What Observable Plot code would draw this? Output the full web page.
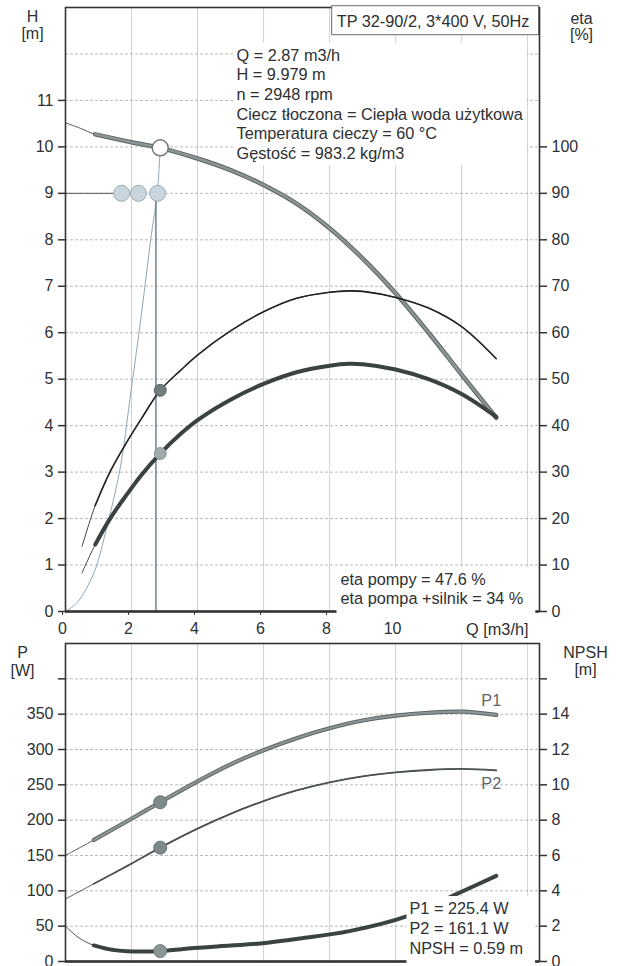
<!DOCTYPE html>
<html><head><meta charset="utf-8">
<script src="https://cdn.jsdelivr.net/npm/d3@7"></script>
<script src="https://cdn.jsdelivr.net/npm/@observablehq/plot@0.6"></script>
<style>
body{margin:0;background:#fff;}
#chart{width:618px;}
#chart svg{display:block;}
</style></head><body><div id="chart"></div>
<script>
// ---------- DATA ----------
// Q-H curve
const Q_H = [0, 0.45, 0.9, 2.0, 2.87, 4.0, 5.0, 6.0, 7.0, 8.0, 9.0, 10.0, 11.0, 12.0, 13.05];
const H_m = [10.52, 10.4, 10.27, 10.1, 9.98, 9.75, 9.5, 9.18, 8.78, 8.25, 7.6, 6.85, 6.0, 5.1, 4.17];
// efficiency curves [%]
const Q_eta = [0.5, 0.9, 1.36, 1.87, 2.3, 2.87, 3.5, 4.0, 5.0, 6.0, 7.0, 8.0, 8.6, 9.0, 10.0, 11.0, 12.0, 13.05];
const etaPump = [14.0, 22.8, 30.2, 36.6, 41.5, 47.6, 52.0, 55.2, 60.4, 64.5, 67.4, 68.7, 69.0, 68.9, 67.6, 65.3, 61.3, 54.4];
const etaTotal = [8.3, 14.4, 20.1, 25.3, 29.4, 34.0, 38.3, 41.2, 45.6, 49.0, 51.5, 52.9, 53.3, 53.2, 52.1, 50.0, 46.8, 41.9];
// thin system line from origin to duty point
const Q_sys = [0, 0.35, 0.86, 1.26, 1.67, 1.95, 2.3, 2.6, 2.78, 2.87];
const H_sys = [0, 0.19, 0.83, 1.84, 3.13, 4.56, 6.4, 8.1, 9.0, 9.98];
// power curves [W]
const Q_P = [0, 0.86, 2.0, 2.87, 4.0, 5.0, 6.0, 7.0, 8.0, 9.0, 10.0, 11.0, 12.0, 13.05];
const P1 = [150, 172, 202, 225.4, 255, 279, 299, 316, 330, 341, 348, 352, 353.5, 349];
const P2 = [88.5, 110, 138.5, 161.1, 188, 209, 227, 242, 253.5, 262, 267.5, 271, 272.5, 270.5];
// NPSH curve [m]
const Q_N = [0, 0.2, 0.45, 0.86, 1.3, 1.87, 2.3, 2.87, 3.9, 5.0, 5.9, 7.1, 8.6, 10.4, 11.76, 13.05];
const NPSH = [2.0, 1.65, 1.28, 0.91, 0.7, 0.58, 0.56, 0.59, 0.76, 0.9, 1.02, 1.3, 1.72, 2.6, 3.74, 4.85];
// duty point
const dutyQ = [2.87];
const dutyH = [9.979];
const dutyEtaPump = [47.6];
const dutyEtaTotal = [34];
const dutyP1 = [225.4];
const dutyP2 = [161.1];
const dutyNPSH = [0.59];
// legend-like circles at H = 9
const circleQ = [1.7, 2.21, 2.79];
const circleH = [9, 9, 9];
const vLineQ = [2.74];
// ticks
const qTicks = [0, 2, 4, 6, 8, 10, 12, 14];
const qLabels = ["0", "2", "4", "6", "8", "10", "", ""];
const hTicks = [0, 1, 2, 3, 4, 5, 6, 7, 8, 9, 10, 11];
const hGrid = [1, 2, 3, 4, 5, 6, 7, 8, 9, 10, 11, 12];
const etaTicks = [0, 10, 20, 30, 40, 50, 60, 70, 80, 90, 100];
const pTicks = [0, 50, 100, 150, 200, 250, 300, 350, 400];
const pLabels = ["0", "50", "100", "150", "200", "250", "300", "350", ""];
const pGrid = [50, 100, 150, 200, 250, 300, 350, 400];
const npshTicks = [0, 2, 4, 6, 8, 10, 12, 14, 16];
const npshLabels = ["0", "2", "4", "6", "8", "10", "12", "14", ""];
// texts
const titleText = "TP 32-90/2, 3*400 V, 50Hz";
const infoLines = ["Q = 2.87 m3/h", "H = 9.979 m", "n = 2948 rpm", "Ciecz tłoczona = Ciepła woda użytkowa", "Temperatura cieczy = 60 °C", "Gęstość = 983.2 kg/m3"];
const etaLines = ["eta pompy = 47.6 %", "eta pompa +silnik = 34 %"];
const powerLines = ["P1 = 225.4 W", "P2 = 161.1 W", "NPSH = 0.59 m"];
const axisTexts = {H: ["H", "[m]"], eta: ["eta", "[%]"], P: ["P", "[W]"], NPSH: ["NPSH", "[m]"], Q: "Q [m3/h]"};
const curveNames = ["P1", "P2"];

// ---------- build ----------
const zip = (xs, ys) => xs.map((x, i) => ({q: x, v: ys[i]}));
const hData = zip(Q_H, H_m);
const etaPData = zip(Q_eta, etaPump);
const etaTData = zip(Q_eta, etaTotal);
const sysData = zip(Q_sys, H_sys);
const p1Data = zip(Q_P, P1);
const p2Data = zip(Q_P, P2);
const nData = zip(Q_N, NPSH);

const font = "'Liberation Sans', Arial, sans-serif";
const ink = "#2e3032";
const gridV = "#c3d6e1";
const gridH = "#a0a4a6";
const curve = "catmull-rom";
const fs = 16.3;   // annotation font size
const fa = 16;     // axis font size

const chartTop = Plot.plot({
  width: 618, height: 642,
  marginTop: 7, marginBottom: 31, marginLeft: 65, marginRight: 79,
  style: {fontFamily: font, fontSize: fa + "px", color: ink, background: "white", overflow: "visible"},
  x: {domain: [0, 14.36]},
  y: {domain: [0, 13]},
  marks: [
    Plot.gridX(qTicks.slice(1), {stroke: gridV, strokeOpacity: 1}),
    Plot.gridY(hGrid, {stroke: gridH, strokeOpacity: 0.75, strokeDasharray: "3,2"}),
    // system line
    Plot.line(sysData, {x: "q", y: "v", stroke: "#8fa7b4", strokeWidth: 1, curve}),
    Plot.ruleX(vLineQ, {y1: 0, y2: circleH[2], stroke: "#4d6472", strokeWidth: 1.2}),
    Plot.ruleY([circleH[0]], {x1: 0, x2: circleQ[0], stroke: "#555", strokeWidth: 1}),
    // Q-H
    Plot.line(hData, {x: "q", y: "v", stroke: "#555", strokeWidth: 1, curve}),
    Plot.line(hData, {x: "q", y: "v", filter: d => d.q >= 0.9, stroke: "#5d6565", strokeWidth: 4.5, curve}),
    Plot.line(hData, {x: "q", y: "v", filter: d => d.q >= 0.9, stroke: "#8c9595", strokeWidth: 2.5, curve}),
    // eta pump (thin)
    Plot.line(etaPData, {x: "q", y: d => d.v / 10, stroke: "#444", strokeWidth: 1, curve}),
    Plot.line(etaPData, {x: "q", y: d => d.v / 10, filter: d => d.q >= 0.9, stroke: "#1e2222", strokeWidth: 1.6, curve}),
    // eta total (thick)
    Plot.line(etaTData, {x: "q", y: d => d.v / 10, stroke: "#444", strokeWidth: 1, curve}),
    Plot.line(etaTData, {x: "q", y: d => d.v / 10, filter: d => d.q >= 0.9, stroke: "#3a4242", strokeWidth: 4, curve}),
    // markers
    Plot.dot(circleQ.map((q, i) => ({q, v: circleH[i]})), {x: "q", y: "v", r: 8, fill: "#c9d6de", stroke: "#9aaab4", strokeWidth: 1}),
    Plot.dot(dutyQ.map((q, i) => ({q, v: dutyH[i]})), {x: "q", y: "v", r: 8, fill: "white", stroke: "#707878", strokeWidth: 1.5}),
    Plot.dot(dutyQ.map((q, i) => ({q, v: dutyEtaPump[i] / 10})), {x: "q", y: "v", r: 6, fill: "#6e7c7c", stroke: "#5a6666", strokeWidth: 1}),
    Plot.dot(dutyQ.map((q, i) => ({q, v: dutyEtaTotal[i] / 10})), {x: "q", y: "v", r: 6, fill: "#9fabab", stroke: "#8a9696", strokeWidth: 1}),
    // frame and axes
    Plot.frame({stroke: "#333", strokeWidth: 1.6}),
    Plot.ruleY([0], {stroke: "#333", strokeWidth: 2.5}),
    Plot.axisY(hTicks, {anchor: "left", tickSize: 7, tickPadding: 5, fontSize: fa, label: null, stroke: "#333", strokeWidth: 1.5}),
    Plot.axisY(etaTicks.map(e => e / 10), {anchor: "right", tickSize: 7, tickPadding: 5, fontSize: fa, label: null, tickFormat: d => String(Math.round(d * 10)), stroke: "#333", strokeWidth: 1.5}),
    Plot.axisX(qTicks, {anchor: "bottom", tickSize: 4, tickPadding: 7, fontSize: fa, label: null, dx: -3, tickFormat: d => qLabels[qTicks.indexOf(d)], stroke: "#333"}),
    // axis titles
    Plot.text([axisTexts.H.join("\n")], {frameAnchor: "top-left", dx: -33, dy: 18, lineAnchor: "middle", textAnchor: "middle", lineHeight: 1.05, fontSize: fa, fill: ink}),
    Plot.text([axisTexts.eta.join("\n")], {frameAnchor: "top-right", dx: 42, dy: 19, lineAnchor: "middle", textAnchor: "middle", lineHeight: 1.0, fontSize: fa, fill: ink}),
    Plot.text([axisTexts.Q], {frameAnchor: "bottom-right", dx: -11, dy: 18, lineAnchor: "middle", textAnchor: "end", fontSize: fs, fill: ink}),
    // annotation blocks
    Plot.text([titleText], {frameAnchor: "top-right", dx: -10, dy: 14, lineAnchor: "middle", textAnchor: "end", fontSize: fs, fill: ink, ariaDescription: "box-title"}),
    Plot.text([infoLines.join("\n")], {frameAnchor: "top-left", dx: 171, dy: 39, lineAnchor: "top", textAnchor: "start", lineHeight: 1.21, fontSize: fs, fill: ink, ariaDescription: "box-info"}),
    Plot.text([etaLines.join("\n")], {frameAnchor: "top-left", dx: 275, dy: 580.5, lineAnchor: "middle", textAnchor: "start", lineHeight: 1.17, fontSize: fs, fill: ink, ariaDescription: "box-eta"})
  ]
});

const chartBottom = Plot.plot({
  width: 618, height: 324,
  marginTop: 1, marginBottom: 5, marginLeft: 65, marginRight: 79,
  style: {fontFamily: font, fontSize: fa + "px", color: ink, background: "white", overflow: "visible"},
  x: {domain: [0, 14.36]},
  y: {domain: [0, 450]},
  marks: [
    Plot.gridX(qTicks.slice(1), {stroke: gridV, strokeOpacity: 1}),
    Plot.gridY(pGrid, {stroke: gridH, strokeOpacity: 0.75, strokeDasharray: "3,2"}),
    // P1
    Plot.line(p1Data, {x: "q", y: "v", stroke: "#555", strokeWidth: 1, curve}),
    Plot.line(p1Data, {x: "q", y: "v", filter: d => d.q >= 0.86, stroke: "#5d6565", strokeWidth: 4.2, curve}),
    Plot.line(p1Data, {x: "q", y: "v", filter: d => d.q >= 0.86, stroke: "#8c9595", strokeWidth: 2.2, curve}),
    // P2
    Plot.line(p2Data, {x: "q", y: "v", stroke: "#555", strokeWidth: 1, curve}),
    Plot.line(p2Data, {x: "q", y: "v", filter: d => d.q >= 0.86, stroke: "#4a5252", strokeWidth: 1.8, curve}),
    // NPSH
    Plot.line(nData, {x: "q", y: d => d.v * 25, stroke: "#555", strokeWidth: 1, curve}),
    Plot.line(nData, {x: "q", y: d => d.v * 25, filter: d => d.q >= 0.86, stroke: "#3a4242", strokeWidth: 4, curve}),
    // markers
    Plot.dot(dutyQ.map((q, i) => ({q, v: dutyP1[i]})), {x: "q", y: "v", r: 6.5, fill: "#7d8a8a", stroke: "#667272", strokeWidth: 1}),
    Plot.dot(dutyQ.map((q, i) => ({q, v: dutyP2[i]})), {x: "q", y: "v", r: 6.5, fill: "#7d8a8a", stroke: "#667272", strokeWidth: 1}),
    Plot.dot(dutyQ.map((q, i) => ({q, v: dutyNPSH[i] * 25})), {x: "q", y: "v", r: 6.5, fill: "#8a9696", stroke: "#6f7b7b", strokeWidth: 1}),
    // curve names
    Plot.text([p1Data[p1Data.length - 1]], {x: "q", y: "v", text: () => curveNames[0], dx: -5, dy: -14, fontSize: fs, fill: "#666"}),
    Plot.text([p2Data[p2Data.length - 1]], {x: "q", y: "v", text: () => curveNames[1], dx: -5, dy: 13, fontSize: fs, fill: "#666"}),
    // frame & axes
    Plot.frame({stroke: "#333", strokeWidth: 1.6}),
    Plot.ruleY([0], {stroke: "#333", strokeWidth: 2.5}),
    Plot.axisY(pTicks, {anchor: "left", tickSize: 7, tickPadding: 5, fontSize: fa, label: null, tickFormat: d => pLabels[pTicks.indexOf(d)], stroke: "#333", strokeWidth: 1.5}),
    Plot.axisY(npshTicks.map(n => n * 25), {anchor: "right", tickSize: 7, tickPadding: 5, fontSize: fa, label: null, tickFormat: d => npshLabels[npshTicks.indexOf(d / 25)], stroke: "#333", strokeWidth: 1.5}),
    Plot.axisX(qTicks, {anchor: "bottom", tickSize: 0, tickFormat: () => "", label: null}),
    Plot.text([axisTexts.P.join("\n")], {frameAnchor: "top-left", dx: -43, dy: 18, lineAnchor: "middle", textAnchor: "middle", lineHeight: 1.1, fontSize: fa, fill: ink}),
    Plot.text([axisTexts.NPSH.join("\n")], {frameAnchor: "top-right", dx: 46, dy: 18, lineAnchor: "middle", textAnchor: "middle", lineHeight: 1.05, fontSize: fa, fill: ink}),
    Plot.text([powerLines.join("\n")], {frameAnchor: "top-left", dx: 344, dy: 284, lineAnchor: "middle", textAnchor: "start", lineHeight: 1.22, fontSize: fs, fill: ink, ariaDescription: "box-power"})
  ]
});

const host = document.getElementById("chart");
host.appendChild(chartTop);
host.appendChild(chartBottom);

// white backgrounds (and border for the title) behind annotation texts
const pads = {
  "box-title": {l: 5, r: 9, t: 6, b: 5, border: true},
  "box-info": {l: 3, r: 3, t: 3, b: 3},
  "box-eta": {l: 4, r: 12, t: 3, b: 12},
  "box-power": {l: 3, r: 12, t: 3, b: 8}
};
for (const svg of [chartTop, chartBottom]) {
  for (const g of svg.querySelectorAll('g[aria-description^="box-"]')) {
    const p = pads[g.getAttribute("aria-description")];
    if (!p) continue;
    const bb = g.getBBox();
    const r = document.createElementNS("http://www.w3.org/2000/svg", "rect");
    r.setAttribute("x", bb.x - p.l);
    r.setAttribute("y", bb.y - p.t);
    r.setAttribute("width", bb.width + p.l + p.r);
    r.setAttribute("height", bb.height + p.t + p.b);
    r.setAttribute("fill", "white");
    if (p.border) { r.setAttribute("stroke", "#6a6a6a"); r.setAttribute("stroke-width", "1"); }
    else { r.setAttribute("stroke", "none"); }
    g.insertBefore(r, g.firstChild);
  }
}
</script></body></html>
